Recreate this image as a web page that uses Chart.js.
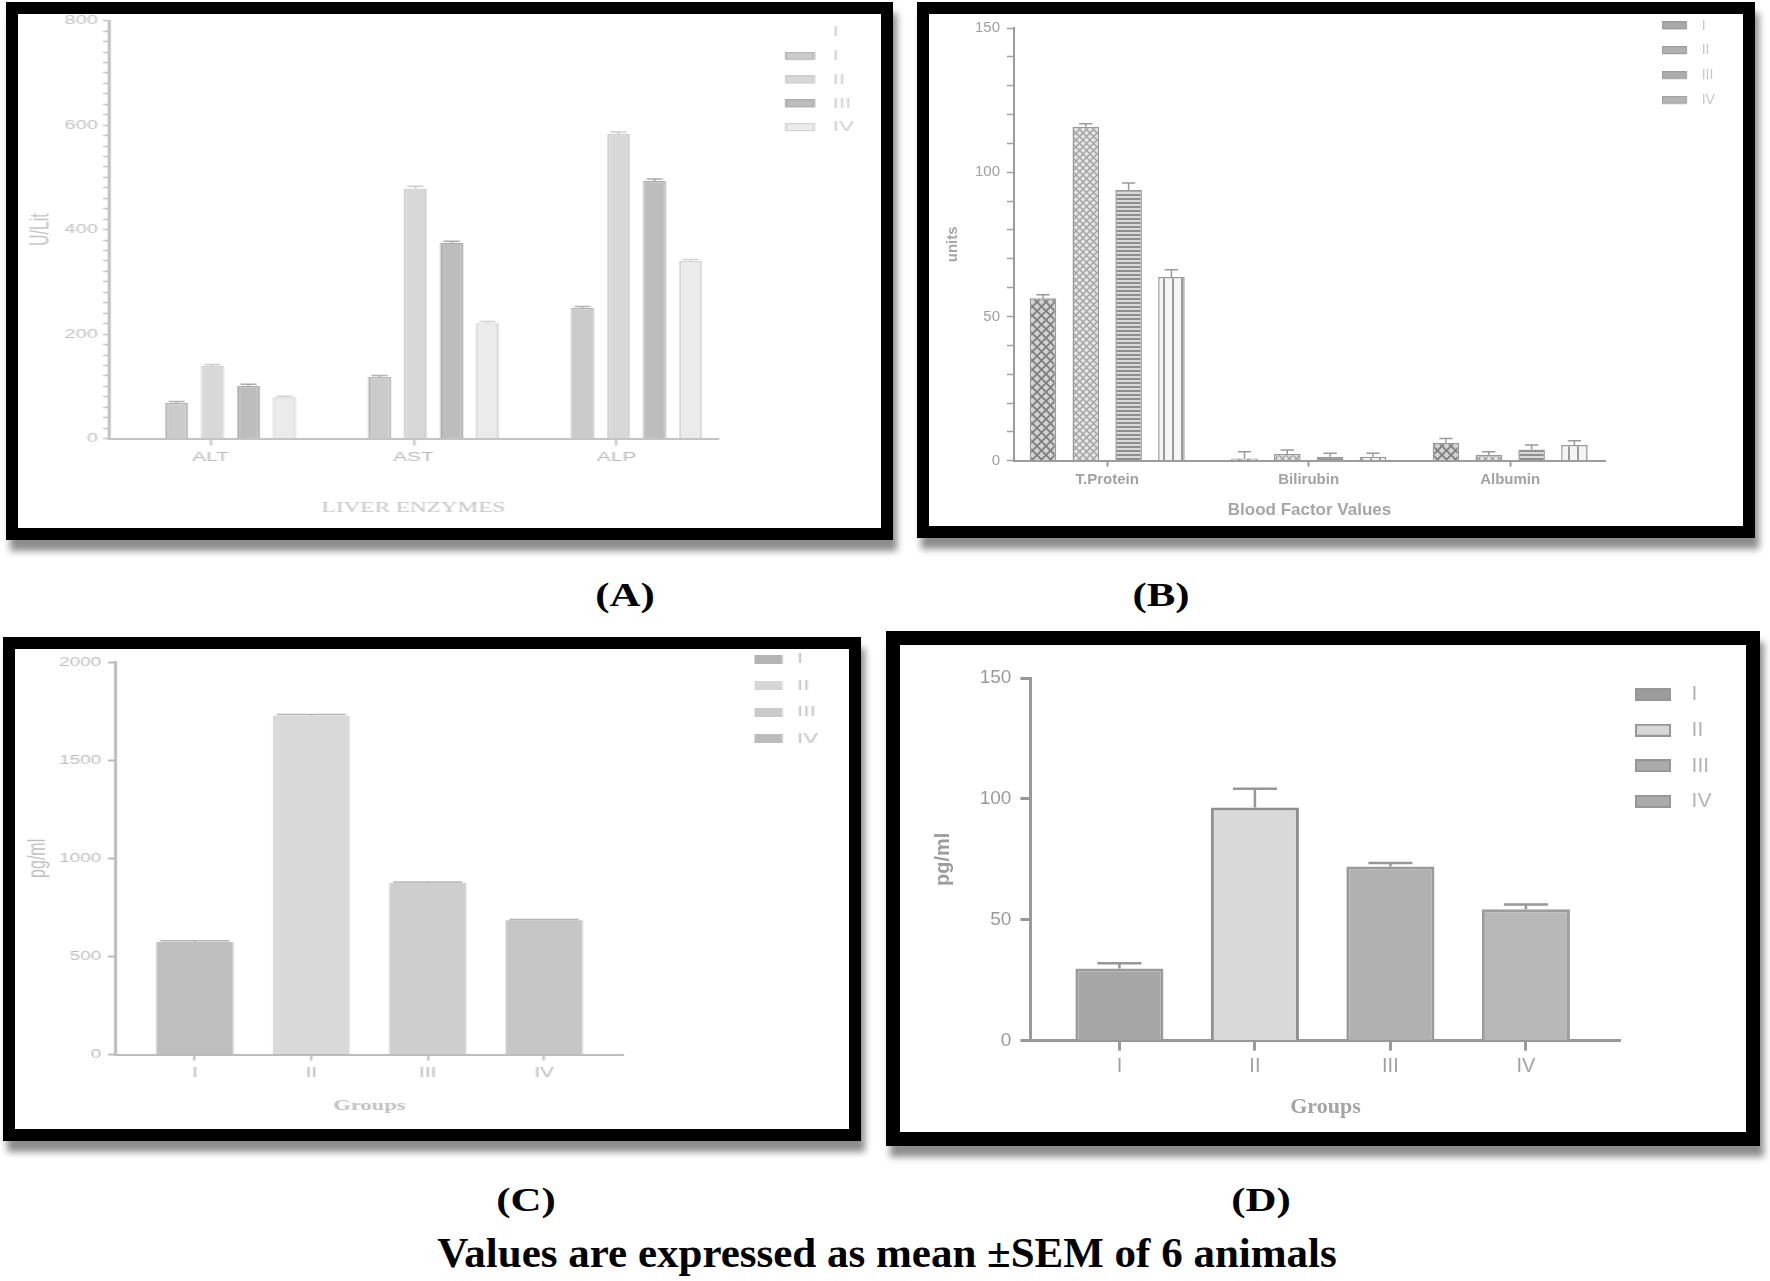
<!DOCTYPE html>
<html>
<head>
<meta charset="utf-8">
<title>Liver enzymes, blood factors and cytokine levels</title>
<script src="https://cdn.jsdelivr.net/npm/chart.js@4.4.1/dist/chart.umd.min.js"></script>
<style>
  html, body { margin:0; padding:0; background:#fff; }
  body { position:relative; width:1770px; height:1281px; overflow:hidden; }
  .frame { position:absolute; border:solid #000; background:#fff; box-shadow:4px 11px 7px rgba(0,0,0,0.45); }
  .frame canvas { display:block; }
  .plabel { position:absolute; font-family:'Liberation Serif','Times New Roman',serif; font-weight:bold; font-size:33px; line-height:34px; color:#000; white-space:nowrap; transform:translateX(-50%) scaleX(1.3); }
  .caption { position:absolute; left:887px; top:1231px; font-family:'Liberation Serif','Times New Roman',serif; font-weight:bold; font-size:43px; line-height:43px; color:#000; white-space:nowrap; transform:translateX(-50%); }
</style>
</head>
<body>
<div class="frame" style="left:6px;top:2px;border-width:12px;"><canvas id="chartA" width="539" height="514" style="width:863px;height:514px;"></canvas></div>
<div class="frame" style="left:917px;top:2px;border-width:12px;"><canvas id="chartB" width="814" height="512" style="width:814px;height:512px;"></canvas></div>
<div class="frame" style="left:3px;top:637px;border-width:12px;"><canvas id="chartC" width="556" height="480" style="width:834px;height:480px;"></canvas></div>
<div class="frame" style="left:886px;top:631px;border-width:14px;"><canvas id="chartD" width="846" height="487" style="width:846px;height:487px;"></canvas></div>
<div class="plabel" style="left:625px;top:578px;">(A)</div>
<div class="plabel" style="left:1161px;top:578px;">(B)</div>
<div class="plabel" style="left:526px;top:1183px;">(C)</div>
<div class="plabel" style="left:1261px;top:1183px;">(D)</div>
<div class="caption">Values are expressed as mean ±SEM of 6 animals</div>
<script>
// ---------------- DATA ----------------
const groupNames = ['I', 'II', 'III', 'IV'];

// (A) Liver enzymes (U/Lit)
const enzymeNames = ['ALT', 'AST', 'ALP'];
const enzymeI   = [68, 118, 250];
const enzymeII  = [139, 479, 583];
const enzymeIII = [101, 375, 493];
const enzymeIV  = [79, 221, 340];
const enzymeSemI   = [3, 3, 3];
const enzymeSemII  = [3, 4, 4];
const enzymeSemIII = [3, 3, 4];
const enzymeSemIV  = [2, 3, 3];
const enzymeAxisTicks = [0, 200, 400, 600, 800];

// (B) Blood factor values (units)
const bloodNames = ['T.Protein', 'Bilirubin', 'Albumin'];
const bloodI   = [56.3, 0.8, 6.2];
const bloodII  = [115.8, 2.3, 2.0];
const bloodIII = [93.8, 1.4, 3.9];
const bloodIV  = [63.7, 1.4, 5.4];
const bloodSemI   = [1.2, 2.3, 1.5];
const bloodSemII  = [1.0, 1.4, 1.1];
const bloodSemIII = [2.5, 1.2, 1.5];
const bloodSemIV  = [2.5, 1.2, 1.5];
const bloodAxisTicks = [0, 50, 100, 150];

// (C) pg/ml per group
const panelCValues = [574, 1727, 874, 684];
const panelCSem    = [6, 6, 6, 4];
const panelCAxisTicks = [0, 500, 1000, 1500, 2000];

// (D) pg/ml per group
const panelDValues = [29.8, 96.4, 72.0, 54.3];
const panelDSem    = [2.2, 7.8, 1.5, 2.0];
const panelDAxisTicks = [0, 50, 100, 150];

// ---------------- STYLE HELPERS ----------------
const SANS = "'Liberation Sans', Arial, sans-serif";
const SERIF = "'Liberation Serif', 'Times New Roman', serif";
Chart.defaults.font.family = SANS;

function makePattern(kind) {
  const t = document.createElement('canvas');
  const g = t.getContext('2d');
  if (kind === 'diamond') {
    t.width = t.height = 9;
    g.fillStyle = '#d2d2d2'; g.fillRect(0, 0, 9, 9);
    g.strokeStyle = '#7e7e7e'; g.lineWidth = 1.8;
    g.beginPath(); g.moveTo(-1, -1); g.lineTo(10, 10); g.moveTo(10, -1); g.lineTo(-1, 10); g.stroke();
  } else if (kind === 'fine') {
    t.width = t.height = 7;
    g.fillStyle = '#e4e4e4'; g.fillRect(0, 0, 7, 7);
    g.strokeStyle = '#a0a0a0'; g.lineWidth = 1.3;
    g.beginPath(); g.moveTo(-1, -1); g.lineTo(8, 8); g.moveTo(8, -1); g.lineTo(-1, 8); g.stroke();
  } else if (kind === 'hstripe') {
    t.width = 4; t.height = 4;
    g.fillStyle = '#dadada'; g.fillRect(0, 0, 4, 4);
    g.fillStyle = '#8e8e8e'; g.fillRect(0, 0, 4, 2);
  } else {
    t.width = 9; t.height = 4;
    g.fillStyle = '#f4f4f4'; g.fillRect(0, 0, 9, 4);
    g.fillStyle = '#9a9a9a'; g.fillRect(0, 0, 2, 4);
  }
  return g.createPattern(t, 'repeat');
}

function swatch(fill, stroke, lw, w, h, totalW) {
  const c = document.createElement('canvas');
  c.width = Math.max(1, Math.round(totalW));
  c.height = Math.ceil(h + lw);
  const g = c.getContext('2d');
  if (fill) { g.fillStyle = fill; g.fillRect(lw / 2, lw / 2, w, h); }
  if (stroke && lw) { g.strokeStyle = stroke; g.lineWidth = lw; g.strokeRect(lw / 2, lw / 2, w, h); }
  return c;
}

function legendEntries(texts, swatches, color) {
  return () => texts.map((t, i) => ({
    text: t, pointStyle: swatches[i], fillStyle: 'rgba(0,0,0,0)', strokeStyle: 'rgba(0,0,0,0)',
    lineWidth: 0, fontColor: color, hidden: false, datasetIndex: i, textAlign: 'left'
  }));
}

// error bars drawn through the value scale
const errorBars = {
  id: 'errorBars',
  afterDatasetsDraw(chart, args, opts) {
    const ctx = chart.ctx;
    const ys = chart.scales.y;
    chart.data.datasets.forEach((ds, di) => {
      if (!ds.errors) return;
      const meta = chart.getDatasetMeta(di);
      meta.data.forEach((bar, j) => {
        const raw = ds.data[j];
        const v = (typeof raw === 'object') ? raw.y : raw;
        const e = ds.errors[j];
        const yTop = ys.getPixelForValue(v + e);
        const yBase = ys.getPixelForValue(v);
        const half = bar.width * (opts.capRatio || 0.5) / 2;
        ctx.save();
        ctx.strokeStyle = ds.errorColor || '#999';
        ctx.lineWidth = opts.lineWidth || 1.5;
        ctx.beginPath();
        ctx.moveTo(bar.x, yBase); ctx.lineTo(bar.x, yTop);
        ctx.moveTo(bar.x - half, yTop); ctx.lineTo(bar.x + half, yTop);
        ctx.stroke();
        ctx.restore();
      });
    });
  }
};

// places the legend column at a chosen spot inside the panel
const legendPlace = {
  id: 'legendPlace',
  afterLayout(chart, args, opts) {
    const lg = chart.legend;
    if (!lg || opts.x == null) return;
    const lab = lg.options.labels;
    const pad = lab.padding;
    const fs = lab.font.size;
    lg.left = opts.x - pad;
    lg.top = opts.y - pad - fs / 2;
    lg.right = chart.width;
    lg.width = lg.right - lg.left;
    lg.bottom = chart.height;
    lg.height = lg.bottom - lg.top;
  }
};
Chart.register(errorBars, legendPlace);

const common = { responsive: false, animation: false, devicePixelRatio: 1, events: [] };

// ---------------- (A) ----------------
// canvas A is drawn 539 px wide and shown 863 px wide (the panel is stretched sideways)
const kA = 539 / 863;
const fillA = ['#cbcbcb', '#d8d8d8', '#bdbdbd', '#ebebeb'];
const edgeA = ['#b3b3b3', '#cdcdcd', '#ababab', '#d3d3d3'];
const enzymeSeries = [enzymeI, enzymeII, enzymeIII, enzymeIV];
const enzymeSems = [enzymeSemI, enzymeSemII, enzymeSemIII, enzymeSemIV];
const legWA = 47.7 * kA - 7;
const swA = [swatch(null, null, 0, 18, 8, legWA)].concat(groupNames.map((g, i) => swatch(fillA[i], edgeA[i], 1.2, 30 * kA - 1.2, 7, legWA)));
const barShiftA = 0.0985;

new Chart(document.getElementById('chartA'), {
  type: 'bar',
  data: {
    datasets: groupNames.map((g, i) => ({
      label: g, xAxisID: 'xb', yAxisID: 'y',
      data: enzymeSeries[i].map((v, j) => ({ x: j, y: v })),
      errors: enzymeSems[i], errorColor: edgeA[i],
      backgroundColor: fillA[i], borderColor: edgeA[i], borderWidth: 1.4,
      categoryPercentage: 0.71, barPercentage: 0.64
    }))
  },
  options: Object.assign({}, common, {
    layout: { padding: { left: 0, right: 539 - 2 - 700 * kA, top: 6.7, bottom: 0 } },
    plugins: {
      tooltip: { enabled: false },
      errorBars: { lineWidth: 1.5, capRatio: 0.7 },
      legendPlace: { x: 767 * kA, y: 18.3 },
      legend: {
        position: 'right', align: 'start', maxWidth: 2,
        labels: {
          usePointStyle: true, pointStyleWidth: legWA, padding: 9.8,
          font: { family: SANS, size: 14 }, color: '#cfcfcf', textAlign: 'left',
          generateLabels: legendEntries(['I'].concat(groupNames), swA, '#cfcfcf')
        }
      }
    },
    scales: {
      x: {
        type: 'linear', min: -0.5, max: 2.5, offset: false,
        afterBuildTicks: s => { s.ticks = enzymeNames.map((n, i) => ({ value: i })); },
        afterFit: s => { s.height = 89.4; },
        ticks: { autoSkip: false, maxRotation: 0, color: '#bdbdbd', font: { family: SANS, size: 13 }, padding: 3.6,
                 callback: v => enzymeNames[v] },
        grid: { offset: false, drawOnChartArea: false, drawTicks: true, tickLength: 7, tickColor: '#c4c4c4', tickWidth: 1.5 },
        border: { display: true, color: '#c4c4c4', width: 2 },
        title: { display: true, text: 'LIVER ENZYMES', color: '#c6c6c6', font: { family: SERIF, size: 14.5 }, padding: { top: 0, bottom: 11.3 } }
      },
      xb: {
        type: 'linear', display: false, offset: false,
        min: -0.5 - barShiftA, max: 2.5 - barShiftA,
        afterBuildTicks: s => { s.ticks = enzymeNames.map((n, i) => ({ value: i })); }
      },
      y: {
        min: 0, max: 800,
        afterFit: s => { s.width = 91 * kA; },
        ticks: { stepSize: 20, maxTicksLimit: 100, autoSkip: false, color: '#c3c3c3', font: { family: SANS, size: 12.5, lineHeight: 0.5 }, padding: 5 * kA,
                 callback: v => enzymeAxisTicks.includes(v) ? v : '' },
        grid: { drawOnChartArea: false, drawTicks: true, tickLength: 6 * kA, tickColor: '#c6c6c6', tickWidth: 1.5 },
        border: { display: true, color: '#c3c3c3', width: 2 },
        title: { display: true, text: 'U/Lit', color: '#c3c3c3', font: { family: SANS, size: 16 }, padding: { top: 23 * kA - 9.6, bottom: 0 } }
      }
    }
  })
});

// ---------------- (B) ----------------
const patternsB = [makePattern('diamond'), makePattern('fine'), makePattern('hstripe'), makePattern('vstripe')];
const swFillB = ['#a9a9a9', '#b1b1b1', '#acacac', '#b4b4b4'];
const bloodSeries = [bloodI, bloodII, bloodIII, bloodIV];
const bloodSems = [bloodSemI, bloodSemII, bloodSemIII, bloodSemIV];
const swB = groupNames.map((g, i) => swatch(swFillB[i], '#9c9c9c', 1.2, 24, 7, 33));

new Chart(document.getElementById('chartB'), {
  type: 'bar',
  data: {
    datasets: groupNames.map((g, i) => ({
      label: g,
      data: bloodSeries[i].map((v, j) => ({ x: j, y: v })),
      errors: bloodSems[i], errorColor: '#9a9a9a',
      backgroundColor: patternsB[i], borderColor: '#999999', borderWidth: 1.5,
      categoryPercentage: 0.85, barPercentage: 0.62
    }))
  },
  options: Object.assign({}, common, {
    layout: { padding: { left: 0, right: 136, top: 14, bottom: 0 } },
    plugins: {
      tooltip: { enabled: false },
      errorBars: { lineWidth: 1.5, capRatio: 0.5 },
      legendPlace: { x: 732.7, y: 11.7 },
      legend: {
        position: 'right', align: 'start', maxWidth: 2,
        labels: {
          usePointStyle: true, pointStyleWidth: 33, padding: 10.8,
          font: { family: SANS, size: 14 }, color: '#c8c8c8', textAlign: 'left',
          generateLabels: legendEntries(groupNames, swB, '#c8c8c8')
        }
      }
    },
    scales: {
      x: {
        type: 'linear', min: -0.4625, max: 2.4705, offset: false,
        afterBuildTicks: s => { s.ticks = bloodNames.map((n, i) => ({ value: i })); },
        afterFit: s => { s.height = 65.3; },
        ticks: { autoSkip: false, maxRotation: 0, color: '#a2a2a2', font: { family: SANS, size: 15, weight: 'bold' }, padding: 3.9,
                 callback: v => bloodNames[v] },
        grid: { offset: false, drawOnChartArea: false, drawTicks: true, tickLength: 6, tickColor: '#9c9c9c', tickWidth: 2 },
        border: { display: true, color: '#9c9c9c', width: 2 },
        title: { display: true, text: 'Blood Factor Values', color: '#a6a6a6', font: { family: SANS, size: 17, weight: 'bold' }, padding: { top: 0, bottom: 5.1 } }
      },
      y: {
        min: 0, max: 150,
        afterFit: s => { s.width = 85; },
        ticks: { stepSize: 10, maxTicksLimit: 100, autoSkip: false, color: '#a0a0a0', font: { family: SANS, size: 15, lineHeight: 0.8 }, padding: 7,
                 callback: v => bloodAxisTicks.includes(v) ? v : '' },
        grid: { drawOnChartArea: false, drawTicks: true, tickLength: 7, tickColor: '#a4a4a4', tickWidth: 1.5 },
        border: { display: true, color: '#9c9c9c', width: 2 },
        title: { display: true, text: 'units', color: '#a6a6a6', font: { family: SANS, size: 15, weight: 'bold' }, padding: { top: 14.7, bottom: 0 } }
      }
    }
  })
});

// ---------------- (C) ----------------
// canvas C is drawn 556 px wide and shown 834 px wide (the panel is stretched sideways)
const kC = 556 / 834;
const fillC = ['#bebebe', '#d9d9d9', '#cecece', '#c6c6c6'];
const swFillC = ['#b4b4b4', '#d6d6d6', '#cacaca', '#bcbcbc'];
const legWC = (782 - 739.8) * kC - 7.5;
const swC = groupNames.map((g, i) => swatch(swFillC[i], null, 0, 28 * kC, 9, legWC));

new Chart(document.getElementById('chartC'), {
  type: 'bar',
  data: {
    datasets: groupNames.map((g, i) => ({
      label: g, data: [{ x: i, y: panelCValues[i] }], errors: [panelCSem[i]], errorColor: '#b4b4b4',
      backgroundColor: fillC[i], borderColor: fillC[i], borderWidth: 0,
      grouped: false, categoryPercentage: 1, barPercentage: 0.66
    }))
  },
  options: Object.assign({}, common, {
    layout: { padding: { left: 0, right: 556 - 2 - 608 * kC, top: 13.2, bottom: 0 } },
    plugins: {
      tooltip: { enabled: false },
      errorBars: { lineWidth: 1.5, capRatio: 0.9 },
      legendPlace: { x: 739.8 * kC, y: 10 },
      legend: {
        position: 'right', align: 'start', maxWidth: 2,
        labels: {
          usePointStyle: true, pointStyleWidth: legWC, padding: 11.5,
          font: { family: SANS, size: 15 }, color: '#c4c4c4', textAlign: 'left',
          generateLabels: legendEntries(groupNames, swC, '#c4c4c4')
        }
      }
    },
    scales: {
      x: {
        type: 'linear', min: -0.677, max: 3.677, offset: false,
        afterBuildTicks: s => { s.ticks = groupNames.map((g, i) => ({ value: i })); },
        afterFit: s => { s.height = 74.5; },
        ticks: { autoSkip: false, maxRotation: 0, color: '#bdbdbd', font: { family: SANS, size: 14 }, padding: 3.9,
                 callback: v => groupNames[v] },
        grid: { offset: false, drawOnChartArea: false, drawTicks: true, tickLength: 6, tickColor: '#bcbcbc', tickWidth: 1.5 },
        border: { display: true, color: '#bcbcbc', width: 2 },
        title: { display: true, text: 'Groups', color: '#c0c0c0', font: { family: SERIF, size: 15, weight: 'bold' }, padding: { top: 0, bottom: 14 } }
      },
      y: {
        min: 0, max: 2000,
        afterBuildTicks: s => { s.ticks = panelCAxisTicks.map(v => ({ value: v })); },
        afterFit: s => { s.width = 101 * kC; },
        ticks: { autoSkip: false, color: '#bdbdbd', font: { family: SANS, size: 12.5 }, padding: 7 * kC,
                 callback: v => String(v) },
        grid: { drawOnChartArea: false, drawTicks: true, tickLength: 8 * kC, tickColor: '#bcbcbc', tickWidth: 2 },
        border: { display: true, color: '#bcbcbc', width: 2 },
        title: { display: true, text: 'pg/ml', color: '#bdbdbd', font: { family: SANS, size: 16 }, padding: { top: 24 * kC - 9.6, bottom: 0 } }
      }
    }
  })
});

// ---------------- (D) ----------------
const fillD = ['#a6a6a6', '#d9d9d9', '#b1b1b1', '#b8b8b8'];
const edgeD = ['#9a9a9a', '#8f8f8f', '#9a9a9a', '#9c9c9c'];
const swFillD = ['#9c9c9c', '#d8d8d8', '#ababab', '#ababab'];
const swD = groupNames.map((g, i) => swatch(swFillD[i], '#979797', 2, 34, 11, 46.3));

new Chart(document.getElementById('chartD'), {
  type: 'bar',
  data: {
    datasets: groupNames.map((g, i) => ({
      label: g, data: [{ x: i, y: panelDValues[i] }], errors: [panelDSem[i]], errorColor: '#979797',
      backgroundColor: fillD[i], borderColor: edgeD[i], borderWidth: 3,
      grouped: false, categoryPercentage: 1, barPercentage: 0.65
    }))
  },
  options: Object.assign({}, common, {
    layout: { padding: { left: 0, right: 123.4, top: 33, bottom: 0 } },
    plugins: {
      tooltip: { enabled: false },
      errorBars: { lineWidth: 2.5, capRatio: 0.5 },
      legendPlace: { x: 734.8, y: 49.6 },
      legend: {
        position: 'right', align: 'start', maxWidth: 2,
        labels: {
          usePointStyle: true, pointStyleWidth: 46.3, padding: 14.6,
          font: { family: SANS, size: 21 }, color: '#b4b4b4', textAlign: 'left',
          generateLabels: legendEntries(groupNames, swD, '#b4b4b4')
        }
      }
    },
    scales: {
      x: {
        type: 'linear', min: -0.657, max: 3.699, offset: false,
        afterBuildTicks: s => { s.ticks = groupNames.map((g, i) => ({ value: i })); },
        afterFit: s => { s.height = 91.4; },
        ticks: { autoSkip: false, maxRotation: 0, color: '#a2a2a2', font: { family: SANS, size: 20 }, padding: 3.4,
                 callback: v => groupNames[v] },
        grid: { offset: false, drawOnChartArea: false, drawTicks: true, tickLength: 10, tickColor: '#999999', tickWidth: 3 },
        border: { display: true, color: '#999999', width: 3 },
        title: { display: true, text: 'Groups', color: '#a4a4a4', font: { family: SERIF, size: 22, weight: 'bold' }, padding: { top: 0, bottom: 11.3 } }
      },
      y: {
        min: 0, max: 150,
        afterBuildTicks: s => { s.ticks = panelDAxisTicks.map(v => ({ value: v })); },
        afterFit: s => { s.width = 130.4; },
        ticks: { autoSkip: false, color: '#9a9a9a', font: { family: SANS, size: 19 }, padding: 9 },
        grid: { drawOnChartArea: false, drawTicks: true, tickLength: 10, tickColor: '#999999', tickWidth: 3 },
        border: { display: true, color: '#999999', width: 3 },
        title: { display: true, text: 'pg/ml', color: '#9c9c9c', font: { family: SANS, size: 20, weight: 'bold' }, padding: { top: 31.6, bottom: 0 } }
      }
    }
  })
});
</script>
</body>
</html>
